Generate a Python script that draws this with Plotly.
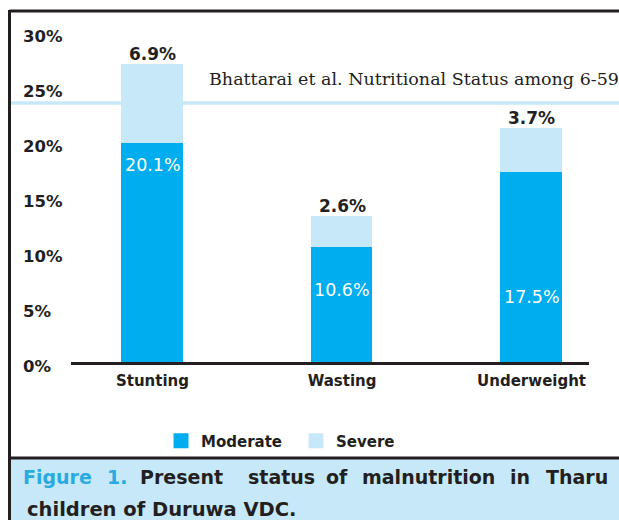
import plotly.graph_objects as go

categories = ["Stunting", "Wasting", "Underweight"]
moderate = [20.1, 10.6, 17.5]
severe = [6.9, 2.6, 3.7]
y_ticks = [0, 5, 10, 15, 20, 25, 30]
moderate_label_pos = [18.0, 6.6, 6.0]

W, H = 619, 520
ML, MR, MT, MB = 19, 30, 20, 144
PW = W - ML - MR
PH = H - MT - MB
ZERO_PX = 363          # pixel row of the value axis zero
PX_PER_UNIT = 11.0     # pixels per percentage point

def px2x(px):
    return (px - ML) / PW

def px2y(py):
    return (H - MB - py) / PH

y_lo = -((H - MB) - ZERO_PX) / PX_PER_UNIT
y_hi = (ZERO_PX - MT) / PX_PER_UNIT

DARK = "#231f20"
MOD_C = "#00adee"
SEV_C = "#c7e8f8"
SANS = "DejaVu Sans"

fig = go.Figure()
fig.add_trace(go.Bar(
    x=categories, y=moderate, name="Moderate", width=0.31,
    marker=dict(color=MOD_C, line=dict(color=MOD_C, width=3)),
    hoverinfo="skip",
))
fig.add_trace(go.Bar(
    x=categories, y=severe, name="Severe", width=0.31,
    marker=dict(color=SEV_C, line=dict(color=SEV_C, width=3)),
    hoverinfo="skip",
))

annotations = []
totals = [m + s for m, s in zip(moderate, severe)]
for cat, s, tot in zip(categories, severe, totals):
    annotations.append(dict(
        x=cat, y=tot, xref="x", yref="y", text=f"<b>{s}%</b>",
        showarrow=False, yanchor="middle", yshift=12,
        font=dict(family=SANS, size=17, color=DARK)))
for cat, m, pos in zip(categories, moderate, moderate_label_pos):
    annotations.append(dict(
        x=cat, y=pos, xref="x", yref="y", text=f"{m}%",
        showarrow=False, yanchor="middle",
        font=dict(family=SANS, size=17.5, color="white")))

# header overlay text
annotations.append(dict(
    x=px2x(207), y=px2y(79), xref="paper", yref="paper", xanchor="left",
    yanchor="middle", showarrow=False,
    text="Bhattarai et al. Nutritional Status among 6-59",
    font=dict(family="DejaVu Serif", size=17.5, color=DARK)))

# caption
cap_font = dict(family=SANS, size=19, color=DARK)
blue_font = dict(family=SANS, size=19, color="#29aae1")
line1 = [("Figure", 57.5, True), ("1.", 117, True), ("Present", 181, False),
         ("status", 281, False), ("of", 336.5, False), ("malnutrition", 428, False),
         ("in", 520, False), ("Tharu", 576.5, False)]
for word, cx, blue in line1:
    annotations.append(dict(
        x=px2x(cx), y=px2y(477), xref="paper", yref="paper", xanchor="center",
        yanchor="middle", showarrow=False, text=f"<b>{word}</b>",
        font=blue_font if blue else cap_font))
annotations.append(dict(
    x=px2x(25), y=px2y(509), xref="paper", yref="paper", xanchor="left",
    yanchor="middle", showarrow=False, text="<b>children of Duruwa VDC.</b>",
    font=dict(family=SANS, size=19.5, color=DARK)))

shapes = [
    dict(type="rect", xref="paper", yref="paper", x0=px2x(10), x1=px2x(640),
         y0=px2y(459), y1=px2y(540), fillcolor=SEV_C, line=dict(width=0), layer="below"),
    dict(type="line", xref="paper", yref="paper", x0=px2x(10), x1=px2x(640),
         y0=px2y(103), y1=px2y(103), line=dict(color=SEV_C, width=3.5), layer="below"),
    dict(type="line", xref="paper", yref="paper", x0=px2x(9.5), x1=px2x(640),
         y0=px2y(11), y1=px2y(11), line=dict(color=DARK, width=3)),
    dict(type="line", xref="paper", yref="paper", x0=px2x(9.5), x1=px2x(9.5),
         y0=px2y(10), y1=px2y(540), line=dict(color=DARK, width=3)),
    dict(type="line", xref="paper", yref="paper", x0=px2x(9.5), x1=px2x(640),
         y0=px2y(458), y1=px2y(458), line=dict(color=DARK, width=3)),
]

fig.update_layout(
    width=W, height=H,
    margin=dict(l=ML, r=MR, t=MT, b=MB, pad=0),
    paper_bgcolor="white", plot_bgcolor="rgba(0,0,0,0)",
    barmode="stack", bargap=0,
    showlegend=True,
    legend=dict(orientation="h", x=px2x(161), y=px2y(441), xanchor="left",
                yanchor="middle", entrywidth=90, bgcolor="rgba(0,0,0,0)",
                font=dict(family=SANS, size=15, color=DARK, weight="bold"),
                traceorder="normal"),
    xaxis=dict(type="category", categoryorder="array", categoryarray=categories,
               domain=[px2x(71), 1], range=[-0.43, 2.303],
               anchor="free", position=px2y(ZERO_PX),
               showline=True, linecolor=DARK, linewidth=2.5, ticks="",
               showgrid=False, zeroline=False, fixedrange=True,
               ticklabelstandoff=3,
               tickvals=categories, ticktext=[f"<b>{c}</b>" for c in categories],
               tickfont=dict(family=SANS, size=15, color=DARK)),
    yaxis=dict(range=[y_lo, y_hi], anchor="free", position=0,
               tickvals=y_ticks, ticktext=[f"<b>{v}%</b>" for v in y_ticks],
               ticklabelposition="inside", ticklabelshift=3,
               showline=False, showgrid=False, zeroline=False, ticks="",
               fixedrange=True,
               tickfont=dict(family=SANS, size=16.5, color=DARK)),
    annotations=annotations, shapes=shapes,
)

fig.write_html(
    "out.html",
    config={"displayModeBar": False},
    post_script="document.body.style.margin='0';document.body.style.overflow='hidden';",
)
